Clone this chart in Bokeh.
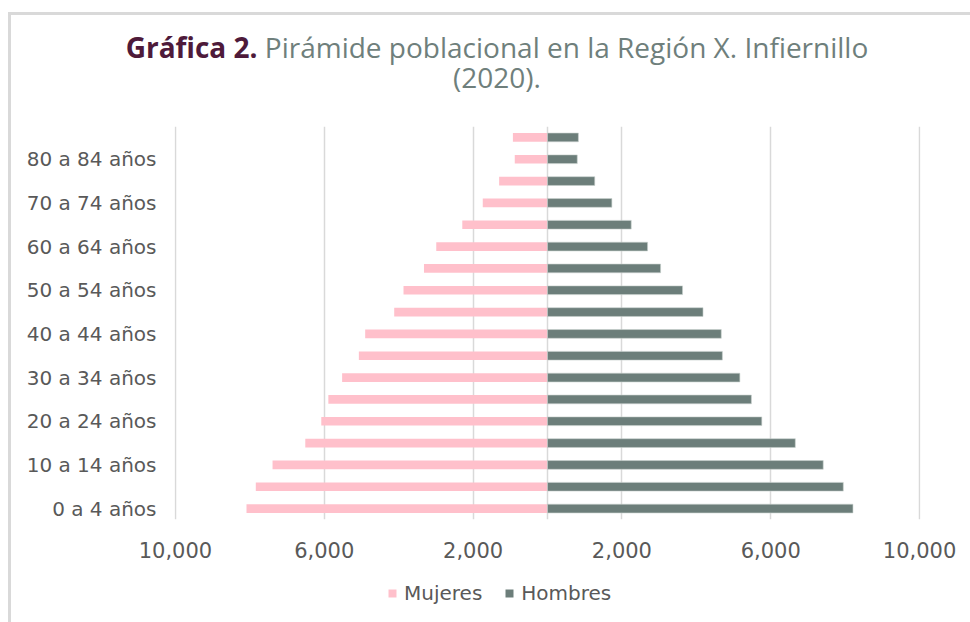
from bokeh.plotting import figure
from bokeh.models import ColumnDataSource, FixedTicker, Legend, LegendItem, Div
from bokeh.layouts import column
from bokeh.embed import file_html
from bokeh.resources import INLINE

# ---- data ----
age_groups = ["0 a 4 años", "5 a 9 años", "10 a 14 años", "15 a 19 años", "20 a 24 años",
              "25 a 29 años", "30 a 34 años", "35 a 39 años", "40 a 44 años", "45 a 49 años",
              "50 a 54 años", "55 a 59 años", "60 a 64 años", "65 a 69 años", "70 a 74 años",
              "75 a 79 años", "80 a 84 años", "85 años y más"]
mujeres = [8090, 7840, 7390, 6510, 6080, 5890, 5520, 5070, 4900, 4120,
           3870, 3320, 2990, 2290, 1740, 1300, 880, 930]
hombres = [8210, 7950, 7410, 6660, 5760, 5480, 5170, 4700, 4670, 4180,
           3630, 3040, 2690, 2250, 1730, 1270, 800, 830]
tick_values = [-10000, -6000, -2000, 2000, 6000, 10000]
tick_labels = ["10,000", "6,000", "2,000", "2,000", "6,000", "10,000"]
series_names = ["Mujeres", "Hombres"]
title_bold = "Gráfica 2."
title_rest = "Pirámide poblacional en la Región X. Infiernillo"
title_line2 = "(2020)."

FONT = "DejaVu Sans"
TFONT = "Open Sans"
PINK = "#FFC0CB"
GREY = "#6C7E7A"
TXT = "#595959"
BORDER = "#D9D9D9"
PURPLE = "#4E1A3A"
TGREY = "#6F7F7C"

OX, OY = 11, 15          # content offset inside the bordered box
W = 970 - OX
BL, BR = 174 - OX, 50    # left / right borders around the plot frame
XPAD = 25                # tiny range padding so the edge gridlines show

# ---- title (HTML) ----
title_html = (
    f'<div style="position:relative;width:{W}px;height:{100 - OY}px;">'
    f'<div style="position:absolute;left:0;top:17px;width:{2 * (497 - OX)}px;'
    f'text-align:center;white-space:nowrap;font-family:\'{TFONT}\';'
    f'font-size:28px;line-height:30px;color:{TGREY};">'
    f'<span style="color:{PURPLE};font-weight:bold;">{title_bold}</span> '
    f'{title_rest}<br>{title_line2}</div></div>'
)
tdiv = Div(text=title_html, width=W, height=100 - OY, margin=0)

# ---- main pyramid ----
idx = list(range(len(age_groups)))
src = ColumnDataSource(dict(y=idx, muj=[-v for v in mujeres], hom=hombres))

p = figure(width=W, height=464, output_backend="svg", toolbar_location=None,
           x_range=(-10000 - XPAD, 10000 + XPAD),
           y_range=(-0.5, len(age_groups) - 0.5),
           min_border_left=BL, min_border_right=BR, min_border_top=26,
           min_border_bottom=45, margin=0)
p.outline_line_color = None

p.hbar(y="y", left="muj", right=0, height=0.4, source=src,
       fill_color=PINK, line_color=None)
p.hbar(y="y", left=0, right="hom", height=0.4, source=src,
       fill_color=GREY, line_color="#c9d1cf", line_width=0.6)

p.xaxis.ticker = FixedTicker(ticks=tick_values)
p.xaxis.major_label_overrides = {v: l for v, l in zip(tick_values, tick_labels)}
p.xaxis.axis_line_color = None
p.xaxis.major_tick_line_color = None
p.xaxis.minor_tick_line_color = None
p.xaxis.major_label_text_font = FONT
p.xaxis.major_label_text_font_size = "21px"
p.xaxis.major_label_text_color = TXT
p.xaxis.major_label_standoff = 16

ytick = idx[::2]
p.yaxis.ticker = FixedTicker(ticks=ytick)
p.yaxis.major_label_overrides = {i: age_groups[i] for i in ytick}
p.yaxis.axis_line_color = None
p.yaxis.major_tick_line_color = None
p.yaxis.minor_tick_line_color = None
p.yaxis.major_label_text_font = FONT
p.yaxis.major_label_text_font_size = "20px"
p.yaxis.major_label_text_color = TXT
p.yaxis.major_label_standoff = 12

p.ygrid.grid_line_color = None
p.xgrid.ticker = FixedTicker(ticks=[-10000, -6000, -2000, 0, 2000, 6000, 10000])
p.xgrid.grid_line_color = BORDER
p.xgrid.grid_line_width = 1.5

# ---- legend strip ----
lg = figure(width=W, height=58, output_backend="svg", toolbar_location=None,
            x_range=(0, 1), y_range=(0, 1),
            min_border_left=BL, min_border_right=BR, min_border_top=0,
            min_border_bottom=0, margin=0)
lg.axis.visible = False
lg.xgrid.grid_line_color = None
lg.ygrid.grid_line_color = None
lg.outline_line_color = None
# swatch-only renderers: a zero-size bar, nothing visible in the strip
rm = lg.hbar(y=[0.5], left=[0.5], right=[0.5], height=0, fill_color=PINK,
             line_color=None)
rh = lg.hbar(y=[0.5], left=[0.5], right=[0.5], height=0, fill_color=GREY,
             line_color=None)
legend = Legend(items=[LegendItem(label=series_names[0], renderers=[rm]),
                       LegendItem(label=series_names[1], renderers=[rh])],
                orientation="horizontal", location=(213, 17),
                label_text_font=FONT, label_text_font_size="20px",
                label_text_color=TXT, glyph_width=10, glyph_height=10,
                spacing=22, label_standoff=7, border_line_color=None,
                background_fill_alpha=0, padding=0, margin=0)
lg.add_layout(legend, "center")

layout = column(tdiv, p, lg, margin=(12, 0, 0, 8), spacing=0,
                styles={"border-left": f"3px solid {BORDER}",
                        "border-top": f"3px solid {BORDER}"})
open("out.html", "w").write(file_html(layout, INLINE))
